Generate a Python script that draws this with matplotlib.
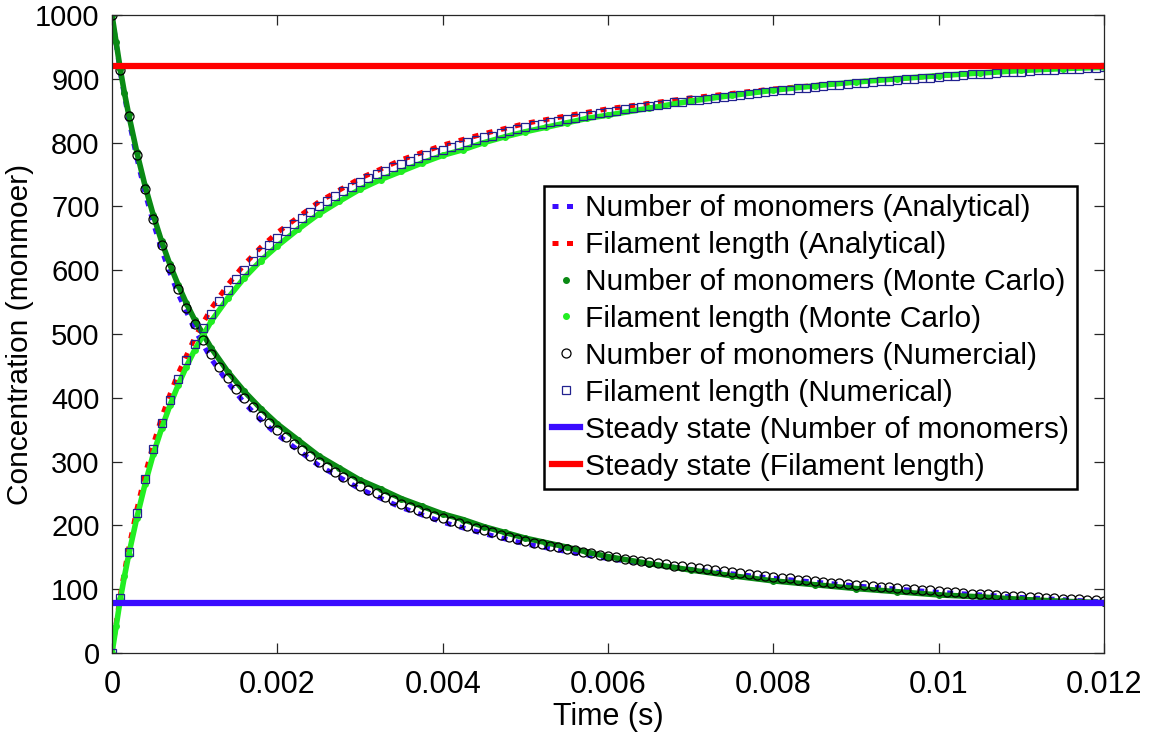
import numpy as np
import matplotlib
matplotlib.use('Agg')
import matplotlib.pyplot as plt
from matplotlib.ticker import FixedLocator, FuncFormatter

plt.rcParams['font.family'] = ['Liberation Sans', 'DejaVu Sans']

# numerical solution, sampled every 0.1 ms
t_num = np.linspace(0, 0.012, 121)
mono_num = [1000, 914, 842, 781, 727, 680, 639, 603, 570, 541,
            515, 491, 469, 449, 431, 414, 399, 385, 372, 360,
            349, 338, 328, 318, 309, 300, 292, 284, 276, 269,
            262, 256, 250, 244, 239, 234, 229, 224, 219, 215,
            211, 207, 203, 199, 196, 192, 189, 185, 182, 179,
            176, 173, 171, 168, 166, 163, 161, 158, 156, 154,
            152, 150, 148, 146, 144, 142, 141, 139, 137, 136,
            134, 133, 131, 130, 128, 127, 125, 124, 122, 121,
            119, 118, 117, 115, 114, 113, 112, 110, 109, 108,
            107, 106, 105, 104, 103, 102, 101, 100, 99, 98,
            97, 96, 95, 94, 93, 93, 92, 91, 90, 89,
            89, 88, 87, 86, 86, 85, 84, 84, 83, 83,
            82]
fil_num = [0, 86, 158, 219, 273, 320, 361, 397, 430, 459,
           485, 509, 531, 551, 569, 586, 601, 615, 628, 640,
           651, 662, 672, 682, 691, 700, 708, 716, 724, 731,
           738, 744, 750, 756, 761, 766, 771, 776, 781, 785,
           789, 793, 797, 801, 804, 808, 811, 815, 818, 821,
           824, 827, 829, 832, 834, 837, 839, 842, 844, 846,
           848, 850, 852, 854, 856, 858, 859, 861, 863, 864,
           866, 867, 869, 870, 872, 873, 875, 876, 878, 879,
           881, 882, 883, 885, 886, 887, 888, 890, 891, 892,
           893, 894, 895, 896, 897, 898, 899, 900, 901, 902,
           903, 904, 905, 906, 907, 907, 908, 909, 910, 911,
           911, 912, 913, 914, 914, 915, 916, 916, 917, 917,
           918]

# analytical curves (ms)
t_an_ms = [0, 0.05, 0.1, 0.15, 0.2, 0.3, 0.4, 0.5, 0.6, 0.7, 0.8, 1.0, 1.2, 1.4, 1.6, 1.8,
           2.0, 2.5, 3.0, 3.5, 4.0, 4.5, 5.0, 5.5, 6.0, 7.0, 8.0, 9.0, 10.0, 11.0, 12.0]
mono_an = [1000, 955, 910, 874, 838, 776, 721, 674, 632, 596, 563, 507, 461, 424, 392, 365,
           342, 294, 257, 228, 205, 187, 171, 159, 148, 131, 117, 105, 95, 87, 80]
fil_an = [0, 46, 91, 127, 163, 225, 280, 327, 369, 405, 438, 494, 540, 577, 609, 636,
          659, 707, 744, 773, 796, 814, 830, 842, 853, 870, 884, 895, 905, 913, 920]

# Monte Carlo runs (ms)
t_mc_ms = [0, 0.05, 0.1, 0.15, 0.2, 0.3, 0.4, 0.5, 0.6, 0.7, 0.8, 0.9, 1.0, 1.2, 1.4, 1.6,
           1.8, 2.0, 2.25, 2.5, 2.75, 3.0, 3.25, 3.5, 3.75, 4.0, 4.25, 4.5, 4.75, 5.0, 5.25,
           5.5, 5.75, 6.0, 6.5, 7.0, 7.5, 8.0, 8.5, 9.0, 9.5, 10.0, 10.5, 11.0, 11.5, 12.0]
mono_mc = [1000, 957, 915, 878, 845, 785, 732, 686, 645, 609, 577, 548, 522, 478, 441, 410,
           383, 359, 334, 309, 290, 271, 257, 242, 230, 218, 209, 198, 189, 180, 173,
           166, 158, 151, 140, 130, 121, 113, 107, 101, 96, 91, 88, 84, 81, 79]
fil_mc = [0, 42, 84, 120, 153, 212, 265, 312, 352, 388, 420, 449, 475, 520, 556, 588,
          615, 638, 664, 688, 708, 727, 742, 755, 768, 780, 789, 800, 809, 817, 824,
          831, 838, 843, 854, 865, 874, 882, 889, 895, 900, 905, 909, 913, 916, 918]

ss_mono = 78
ss_fil = 920

t_an = np.array(t_an_ms) * 1e-3
t_mc = np.array(t_mc_ms) * 1e-3

BLUE = '#3a0cff'
RED = '#ff0000'
DGREEN = '#0a8a14'
LGREEN = '#22ee22'

fig = plt.figure(figsize=(11.49, 7.35), dpi=100)
ax = fig.add_axes([0.0975, 0.1116, 0.8633, 0.868])

dash = (0, (1.2, 1.7))
ax.plot(t_an, mono_an, color=BLUE, lw=3.6, ls=dash, label='Number of monomers (Analytical)')
ax.plot(t_an, fil_an, color=RED, lw=3.6, ls=dash, label='Filament length (Analytical)')
ax.plot(t_mc, mono_mc, color=DGREEN, lw=4, solid_capstyle='round')
ax.plot(t_mc, fil_mc, color=LGREEN, lw=4, solid_capstyle='round')
ax.plot(t_mc, mono_mc, color=DGREEN, ls='none', marker='.', ms=8, label='Number of monomers (Monte Carlo)')
ax.plot(t_mc, fil_mc, color=LGREEN, ls='none', marker='.', ms=8, label='Filament length (Monte Carlo)')
ax.plot(t_num, mono_num, ls='none', marker='o', ms=6.5, mfc='none', mec='black', mew=0.9,
        label='Number of monomers (Numercial)')
ax.plot(t_num, fil_num, ls='none', marker='s', ms=6, mfc='none', mec='#22228f', mew=0.9,
        label='Filament length (Numerical)')
ax.plot([0, 0.012], [ss_mono, ss_mono], color=BLUE, lw=4.5, label='Steady state (Number of monomers)')
ax.plot([0, 0.012], [ss_fil, ss_fil], color=RED, lw=4.5, label='Steady state (Filament length)')

ax.set_xlim(0, 0.012)
ax.set_ylim(0, 1000)
ax.xaxis.set_major_locator(FixedLocator([0, 0.002, 0.004, 0.006, 0.008, 0.01, 0.012]))
ax.xaxis.set_major_formatter(FuncFormatter(lambda v, p: '%g' % round(v, 6)))
ax.yaxis.set_major_locator(FixedLocator(np.arange(0, 1001, 100)))
ax.tick_params(direction='in', length=7, width=0.9, top=True, right=True,
               colors='#262626', labelcolor='black')
ax.tick_params(axis='x', pad=12, labelsize=22)
ax.tick_params(axis='y', pad=9, labelsize=21)
for s in ax.spines.values():
    s.set_color('#262626')
    s.set_linewidth(0.9)

ax.set_xlabel('Time (s)', fontsize=22, labelpad=2)
ax.set_ylabel('Concentration (monmoer)', fontsize=21.5)
ax.yaxis.set_label_coords(-0.0785, 0.5)

leg = ax.legend(loc='upper right', bbox_to_anchor=(0.9728, 0.732), fontsize=21.5,
                frameon=True, fancybox=False, edgecolor='black', framealpha=1,
                handlelength=0.95, handletextpad=0.15, labelspacing=0.3,
                borderpad=0.27, borderaxespad=0)
leg.get_frame().set_linewidth(1.8)

fig.savefig('out.png', dpi=100)
